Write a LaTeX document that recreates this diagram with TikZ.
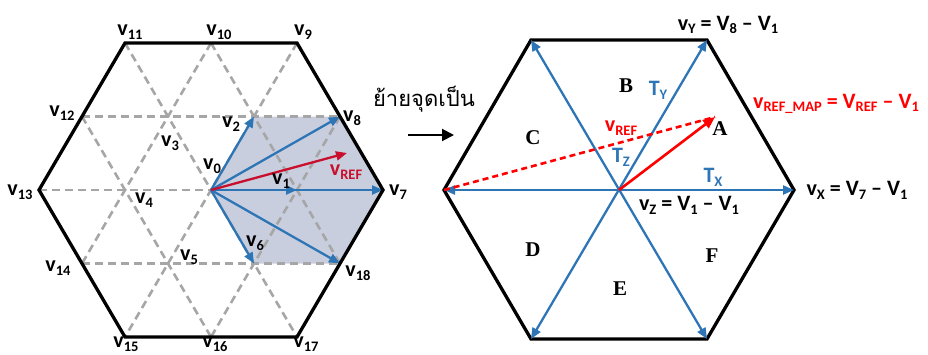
\documentclass[tikz,border=0pt]{standalone}
\usepackage{fontspec}
\usetikzlibrary{arrows.meta}
\newfontfamily\labf{Carlito}
\newfontfamily\thaif[Script=Thai]{Loma}
\newfontfamily\serf{Liberation Serif}
\definecolor{vblue}{HTML}{2E75B6}
\definecolor{dred}{HTML}{C8102E}
\definecolor{bred}{HTML}{FF0000}
\definecolor{shadec}{HTML}{C9CEDE}
\definecolor{gdash}{HTML}{A6A6A6}
\newcommand\vs[2]{#1\raisebox{-0.35ex}{\fontsize{14.5}{14.5}\selectfont #2}}
\tikzset{
  lab/.style={font=\labf\bfseries\fontsize{22}{22}\selectfont, inner sep=0pt},
  eq/.style={font=\labf\bfseries\fontsize{22}{22}\selectfont, inner sep=0pt},
  sect/.style={font=\serf\bfseries\fontsize{21}{21}\selectfont, inner sep=0pt},
  hexline/.style={line width=3.3pt, line join=miter},
  grid/.style={gdash, line width=2.6pt, dash pattern=on 8pt off 5pt},
  barrow/.style={vblue, line width=2.3pt, -{Triangle[length=11pt,width=9pt]}},
  dbarrow/.style={vblue, line width=2.3pt, {Triangle[length=11pt,width=9pt]}-{Triangle[length=11pt,width=9pt]}},
}
\begin{document}
\begin{tikzpicture}[x=1pt,y=-1pt]
\useasboundingbox (0,0) rectangle (928,354);
% ---------- left hexagon coordinates
\coordinate (o) at (211,190);
\coordinate (v7) at (383,190);
\coordinate (v9) at (297,43);
\coordinate (v11) at (125,43);
\coordinate (v13) at (39,190);
\coordinate (v15) at (125,337);
\coordinate (v17) at (297,337);
\coordinate (v8) at (340,116.5);
\coordinate (v10) at (211,43);
\coordinate (v12) at (82,116.5);
\coordinate (v14) at (82,263.5);
\coordinate (v16) at (211,337);
\coordinate (v18) at (340,263.5);
\coordinate (i1) at (297,190);
\coordinate (i2) at (254,116.5);
\coordinate (i6) at (254,263.5);
\coordinate (vref) at (347,153);
% shaded region
\fill[shadec] (o) -- (i2) -- (v8) -- (v7) -- (v18) -- (i6) -- cycle;
% dashed grid
\draw[grid] (v12) -- (v8);
\draw[grid] (v13) -- (v7);
\draw[grid] (v14) -- (v18);
\draw[grid] (v10) -- (v14);
\draw[grid] (v9) -- (v15);
\draw[grid] (v8) -- (v16);
\draw[grid] (v10) -- (v18);
\draw[grid] (v11) -- (v17);
\draw[grid] (v12) -- (v16);
% blue arrows
\draw[barrow] (o) -- (v7);
\draw[barrow] (o) -- (i1);
\draw[barrow] (o) -- (i2);
\draw[barrow] (o) -- (v8);
\draw[barrow] (o) -- (v18);
\draw[barrow] (o) -- (i6);
\draw[dred, line width=2.3pt, -{Triangle[length=11pt,width=9pt]}] (o) -- (vref);
% hexagon
\draw[hexline] (v7) -- (v9) -- (v11) -- (v13) -- (v15) -- (v17) -- cycle;
% labels
\node[lab] (l0) at (212,166) {\vs{v}{0}};
\node[lab] (l1) at (281,181) {\vs{v}{1}};
\node[lab] (l2) at (231,124) {\vs{v}{2}};
\node[lab] (l3) at (170,143) {\vs{v}{3}};
\node[lab] (l4) at (144,200) {\vs{v}{4}};
\node[lab] (l5) at (189,257) {\vs{v}{5}};
\node[lab] (l6) at (255,243) {\vs{v}{6}};
\node[lab] (l7) at (398,192) {\vs{v}{7}};
\node[lab] (l8) at (352,118) {\vs{v}{8}};
\node[lab] (l9) at (303,32) {\vs{v}{9}};
\node[lab] (l10) at (219,32) {\vs{v}{10}};
\node[lab] (l11) at (130,32) {\vs{v}{11}};
\node[lab] (l12) at (62,113) {\vs{v}{12}};
\node[lab] (l13) at (20,192) {\vs{v}{13}};
\node[lab] (l14) at (58,268) {\vs{v}{14}};
\node[lab] (l15) at (126,344) {\vs{v}{15}};
\node[lab] (l16) at (215,344) {\vs{v}{16}};
\node[lab] (l17) at (306,344) {\vs{v}{17}};
\node[lab] (l18) at (358,273) {\vs{v}{18}};
\node[lab, text=dred] (lref) at (346,172) {\vs{v}{REF}};
% ---------- middle
\node[inner sep=0pt, font=\thaif\fontsize{22}{22}\selectfont] (thai) at (424,99) {ย้ายจุดเป็น};
\coordinate (a1) at (408,135);
\coordinate (a2) at (454,135);
\draw[line width=2pt, -{Triangle[length=12pt,width=12pt]}] (a1) -- (a2);
% ---------- right hexagon
\coordinate (c) at (619,190);
\coordinate (p0) at (794,190);
\coordinate (p60) at (707,40);
\coordinate (p120) at (531,40);
\coordinate (p180) at (444,190);
\coordinate (p240) at (531,339);
\coordinate (p300) at (707,339);
\coordinate (rt) at (715,117);
\draw[hexline] (p0) -- (p60) -- (p120) -- (p180) -- (p240) -- (p300) -- cycle;
\draw[dbarrow] (p180) -- (p0);
\draw[dbarrow] (p120) -- (p300);
\draw[dbarrow] (p240) -- (p60);
\draw[bred, line width=2.6pt, dash pattern=on 6pt off 4pt] (p180) -- (rt);
\draw[bred, line width=2.6pt, -{Triangle[length=12pt,width=10pt]}] (c) -- (rt);
% labels right
\node[eq] (ey) at (728,25) {\vs{v}{Y} = \vs{V}{8} – \vs{V}{1}};
\node[eq, text=bred] (em) at (836,104) {\vs{v}{REF\_MAP} = \vs{V}{REF} – \vs{V}{1}};
\node[eq] (ex) at (857,190) {\vs{v}{X} = \vs{V}{7} – \vs{V}{1}};
\node[eq] (ez) at (689,205) {\vs{v}{Z} = \vs{V}{1} – \vs{V}{1}};
\node[eq, text=vblue] (tx) at (713,177) {\vs{T}{X}};
\node[eq, text=vblue] (ty) at (658,90) {\vs{T}{Y}};
\node[eq, text=vblue] (tz) at (621,157) {\vs{T}{Z}};
\node[eq, text=bred] (rref) at (621,128) {\vs{v}{REF}};
\node[sect] (sA) at (720,129) {A};
\node[sect] (sB) at (626,86) {B};
\node[sect] (sC) at (533,138) {C};
\node[sect] (sD) at (533,250) {D};
\node[sect] (sE) at (620,289) {E};
\node[sect] (sF) at (712,256) {F};
\end{tikzpicture}
\end{document}
